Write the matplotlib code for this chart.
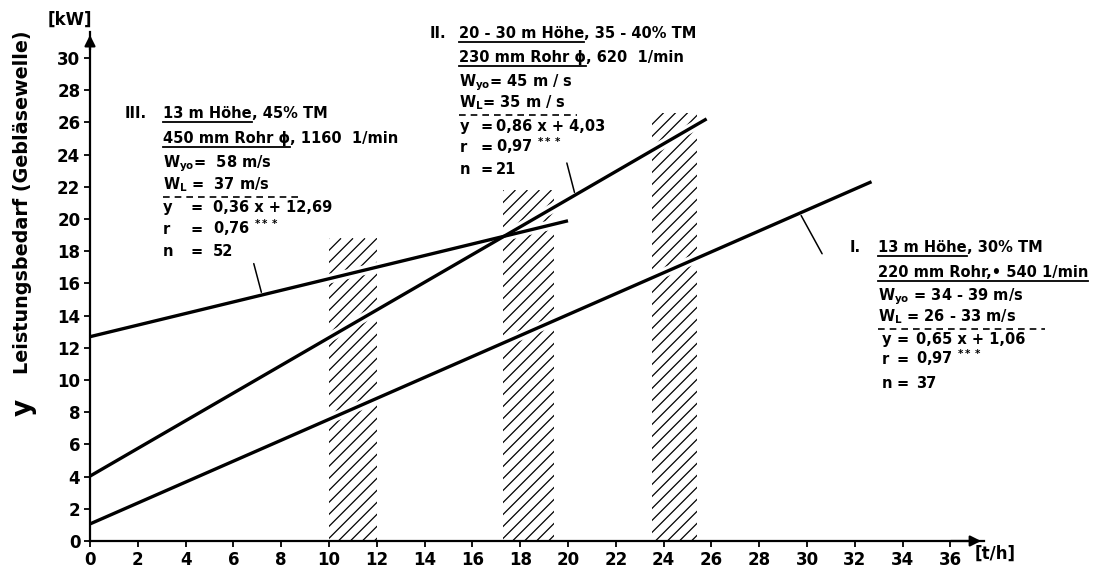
import matplotlib
matplotlib.use("Agg")
import matplotlib.pyplot as plt
from matplotlib.collections import LineCollection
from matplotlib.patches import Rectangle
from matplotlib.transforms import IdentityTransform
import numpy as np

plt.rcParams["font.family"] = ["DejaVu Sans"]
plt.rcParams["font.weight"] = "bold"
plt.rcParams["mathtext.fontset"] = "custom"
plt.rcParams["mathtext.rm"] = "DejaVu Sans:bold"
plt.rcParams["mathtext.it"] = "DejaVu Sans:bold"
plt.rcParams["mathtext.bf"] = "DejaVu Sans:bold"
plt.rcParams["mathtext.default"] = "rm"

# regression lines y = a*x + b, drawn from x = 0 to x_end
slopes = [0.65, 0.86, 0.36]
intercepts = [1.06, 4.03, 12.69]
x_end = [32.7, 25.8, 20.0]

# hatched operating ranges
band_lo = [10.0, 17.3, 23.5]
band_hi = [12.0, 19.4, 25.4]
band_top = [18.8, 21.8, 26.6]

x_ticks = list(range(0, 37, 2))
y_ticks = list(range(0, 31, 2))

W, H = 1108, 569
XS, YS = 23.9, 16.1          # pixels per data unit
X0, Y0 = 90, 541             # pixel position of the origin
XMAX, YMAX = 37.4, 31.6
HATCH_PX = 12.0              # horizontal spacing of hatch strokes

fig = plt.figure(figsize=(W / 100, H / 100), dpi=100)
ax = fig.add_axes([X0 / W, (H - Y0) / H, XMAX * XS / W, YMAX * YS / H])
ax.set_xlim(0, XMAX)
ax.set_ylim(0, YMAX)

for s in ("top", "right"):
    ax.spines[s].set_visible(False)
for s in ("left", "bottom"):
    ax.spines[s].set_linewidth(1.6)

ax.set_xticks(x_ticks)
ax.set_yticks(y_ticks)
ax.tick_params(direction="out", length=4, width=1.3, labelsize=12, pad=3)
for lab in ax.get_xticklabels() + ax.get_yticklabels():
    lab.set_fontweight("bold")

# axis arrowheads
ax.annotate("", xy=(1.0, 0), xytext=(0.96, 0), xycoords="axes fraction",
            arrowprops=dict(arrowstyle="-|>", color="black", lw=1.6,
                            mutation_scale=16), annotation_clip=False)
ax.annotate("", xy=(0, 1.0), xytext=(0, 0.96), xycoords="axes fraction",
            arrowprops=dict(arrowstyle="-|>", color="black", lw=1.6,
                            mutation_scale=16), annotation_clip=False)

# hatched bands: 45-degree strokes clipped to each band rectangle
k = XS / YS                  # data slope of a 45-degree stroke
dx = HATCH_PX / XS
for lo, hi, top in zip(band_lo, band_hi, band_top):
    rect = Rectangle((lo, 0), hi - lo, top, facecolor="none", edgecolor="none")
    ax.add_patch(rect)
    starts = np.arange(lo - top / k, hi + dx, dx)
    segs = [[(c, 0.0), (c + top / k, top)] for c in starts]
    lc = LineCollection(segs, colors="black", linewidths=0.9, zorder=1)
    ax.add_collection(lc)
    lc.set_clip_path(rect)

# regression lines, with a white margin that clears the hatching
for a, b, xe in zip(slopes, intercepts, x_end):
    xs = np.array([0.0, xe])
    ax.plot(xs, a * xs + b, color="white", lw=7, solid_capstyle="butt", zorder=2)
for a, b, xe in zip(slopes, intercepts, x_end):
    xs = np.array([0.0, xe])
    ax.plot(xs, a * xs + b, color="black", lw=2.4, solid_capstyle="butt", zorder=3)

# leader lines from the labels to the lines
leader_x = [29.7, 20.3, 7.2]
leader_off = [(17, -31), (-6.5, 25), (-6.5, 24.5)]
for a, b, lx, off in zip(slopes, intercepts, leader_x, leader_off):
    ax.annotate("", xy=(lx, a * lx + b), xytext=off, textcoords="offset points",
                arrowprops=dict(arrowstyle="-", color="black", lw=1.1))

ident = IdentityTransform()
renderer = fig.canvas.get_renderer()
FS = 10.5


def put(x, y, s, size=FS, **kw):
    return fig.text(x, H - y, s, transform=ident, fontsize=size,
                    fontweight="bold", va="baseline", ha="left", **kw)


def row(x, y, segments):
    """Write text pieces side by side; underline the flagged ones."""
    cx = x
    for txt, ul in segments:
        t = put(cx, y, txt)
        bb = t.get_window_extent(renderer)
        if ul:
            fig.lines.append(plt.Line2D([bb.x0, bb.x1], [H - y - 4, H - y - 4],
                                        transform=ident, color="black", lw=1.3,
                                        figure=fig))
        cx = bb.x1


def dashed(x0, x1, y):
    fig.lines.append(plt.Line2D([x0, x1], [H - y, H - y], transform=ident,
                                color="black", lw=1.2, ls=(0, (4, 3)), figure=fig))


def block(num, xn, xt, ys, head, rows_w, dash, eq, cols):
    put(xn, ys[0], num)
    row(xt, ys[0], head[0])
    row(xt, ys[1], head[1])
    put(xt, ys[2], rows_w[0])
    put(xt, ys[3], rows_w[1])
    dashed(xt, dash, ys[3] + 8)
    for j, (lhs, rhs) in enumerate(eq):
        put(cols[0], ys[4 + j], lhs)
        put(cols[1], ys[4 + j], "=")
        put(cols[2], ys[4 + j], rhs)


block("III.", 125, 163, [118, 143, 167, 189, 212, 234, 256],
      [[("13 m Höhe", True), (", 45% TM", False)],
       [("450 mm Rohr ϕ", True), (", 1160  1/min", False)]],
      ["$W_{yo}$=  58 m/s", "$W_{L}$ =  37 m/s"], 302,
      [("y", "0,36 x + 12,69"), ("r", "0,76 $^{***}$"), ("n", "52")],
      [163, 191, 213])

block("II.", 430, 459, [38, 62, 86, 107, 131, 152, 174],
      [[("20 - 30 m Höhe", True), (", 35 - 40% TM", False)],
       [("230 mm Rohr ϕ", True), (", 620  1/min", False)]],
      ["$W_{yo}$= 45 m / s", "$W_{L}$= 35 m / s"], 577,
      [("y", "0,86 x + 4,03"), ("r", "0,97 $^{***}$"), ("n", "21")],
      [460, 481, 496])

block("I.", 850, 878, [252, 277, 300, 321, 344, 364, 388],
      [[("13 m Höhe", True), (", 30% TM", False)],
       [("220 mm Rohr,\u2022 540 1/min", True)]],
      ["$W_{yo}$ = 34 - 39 m/s", "$W_{L}$ = 26 - 33 m/s"], 1045,
      [("y", "0,65 x + 1,06"), ("r", "0,97 $^{***}$"), ("n", "37")],
      [882, 897, 916])

# axis labels
put(48, 25, "[kW]", size=12)
put(975, 559, "[t/h]", size=12)
fig.text(23, H - 202, "Leistungsbedarf (Gebläsewelle)", transform=ident,
         rotation=90, fontsize=13.8, fontweight="bold", ha="center", va="center")
fig.text(24, H - 407, "y", transform=ident, rotation=90, fontsize=19,
         fontweight="bold", ha="center", va="center")

fig.savefig("out.png", dpi=100, facecolor="white")
